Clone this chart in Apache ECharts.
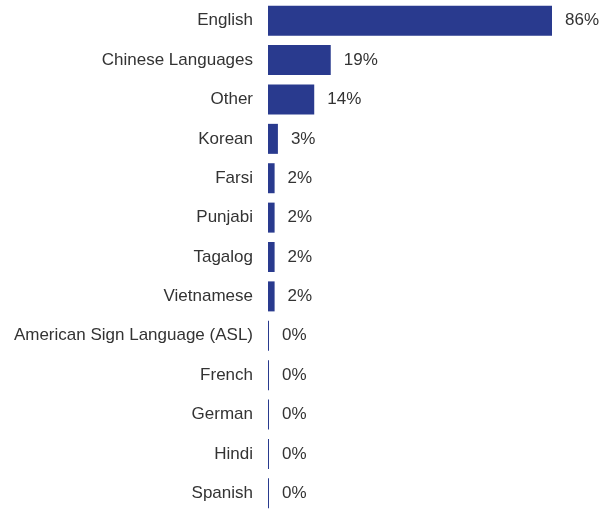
<!DOCTYPE html>
<html>
<head>
<meta charset="utf-8">
<script src="https://cdn.jsdelivr.net/npm/echarts@6/dist/echarts.min.js"></script>
<style>
  html, body { margin: 0; padding: 0; background: #fff; }
  #chart { width: 602px; height: 510px; }
</style>
</head>
<body>
<div id="chart"></div>
<script>
const languages = [
  'English', 'Chinese Languages', 'Other', 'Korean', 'Farsi', 'Punjabi',
  'Tagalog', 'Vietnamese', 'American Sign Language (ASL)', 'French',
  'German', 'Hindi', 'Spanish'
]
const shares = [86, 19, 14, 3, 2, 2, 2, 2, 0, 0, 0, 0, 0]

const chart = echarts.init(document.getElementById('chart'))

const option = {
  backgroundColor: '#fff',
  animation: false,
  grid: {
    left: 268,
    width: 284,
    top: 1,
    height: 512,
    outerBoundsMode: 'none'
  },
  xAxis: {
    type: 'value',
    min: 0,
    max: 86,
    show: false
  },
  yAxis: {
    type: 'category',
    inverse: true,
    data: languages,
    axisLine: { show: false },
    axisTick: { show: false },
    axisLabel: {
      color: '#333',
      fontSize: 17,
      fontFamily: 'Liberation Sans',
      margin: 15
    }
  },
  series: [{
    type: 'bar',
    data: shares,
    barWidth: 30,
    barMinHeight: 1,
    itemStyle: { color: '#293a8e' },
    label: {
      show: true,
      position: 'right',
      distance: 13,
      color: '#333',
      fontSize: 17,
      fontFamily: 'Liberation Sans',
      formatter: p => p.value + '%'
    }
  }]
}

chart.setOption(option)
</script>
</body>
</html>
